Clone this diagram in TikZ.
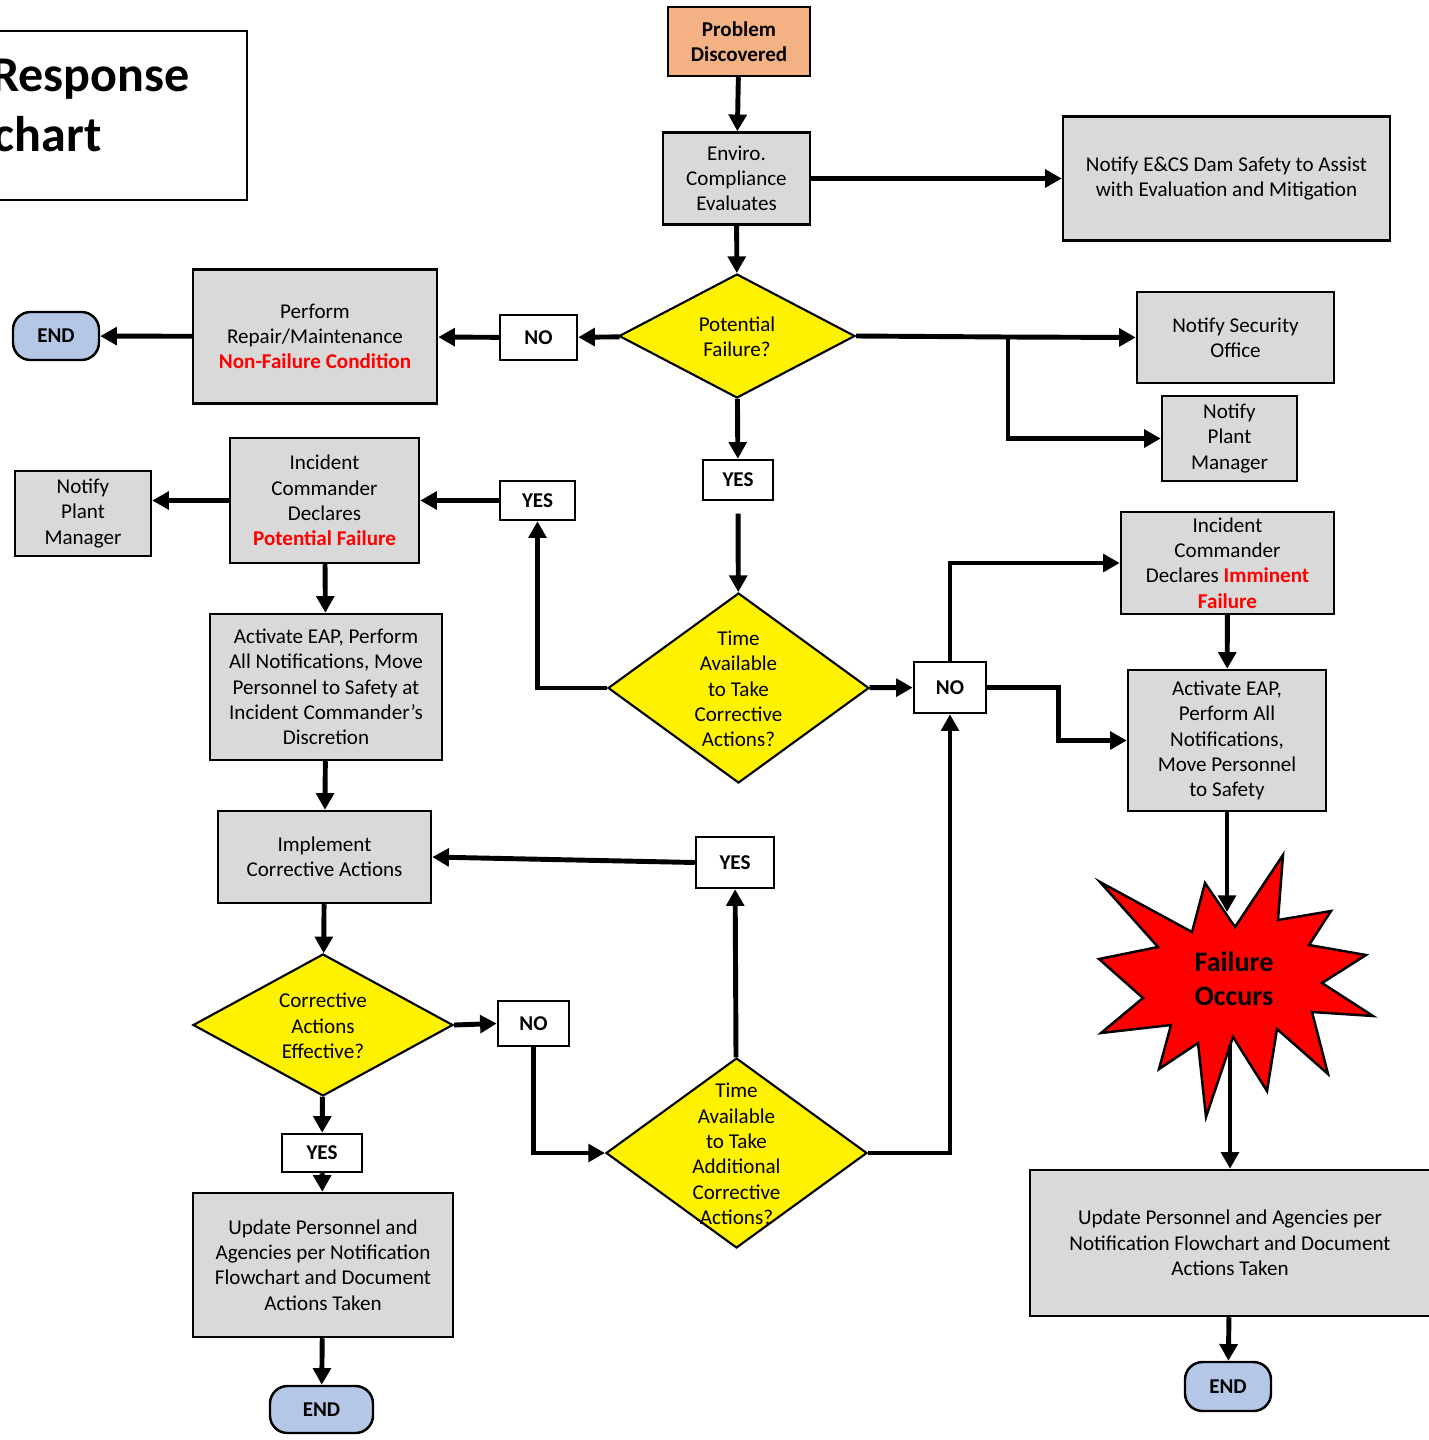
\documentclass[tikz,border=0pt]{standalone}
\usepackage{fontspec}
\setmainfont{Carlito}
\usetikzlibrary{shapes.geometric,arrows.meta}
\definecolor{boxgray}{HTML}{D9D9D9}
\definecolor{probfill}{HTML}{F4B183}
\definecolor{endfill}{HTML}{B4C7E7}
\definecolor{alertred}{HTML}{FF0000}
\newcommand{\redtxt}[1]{\textcolor{alertred}{\textbf{#1}}}

\begin{document}
\begin{tikzpicture}
    [x=0.02cm, y=-0.02cm,
     sz/.style 2 args={minimum width=#1*0.02cm, minimum height=#2*0.02cm},
     txt/.style={font=\fontsize{12}{14.4}\selectfont, align=center, inner sep=0pt},
     box/.style={txt, draw, line width=1.4pt, fill=boxgray},
     answer/.style={txt, draw, line width=1.4pt, fill=white, font=\fontsize{12}{14.4}\selectfont\bfseries},
     decision/.style={diamond, draw, line width=1.2pt, fill=yellow, inner sep=0pt},
     terminal/.style={txt, draw, line width=1.4pt, fill=endfill, rounded corners=0.35cm, font=\fontsize{12}{14.4}\selectfont\bfseries},
     title/.style={anchor=base east, inner sep=0pt, font=\fontsize{28.5}{34}\selectfont\bfseries},
     conn/.style={line width=2.8pt, -{Triangle[length=9.5pt,width=10pt]}}]
    \useasboundingbox (0,0) rectangle (1429,1440);

    % title
    \draw[line width=1.2pt] (-10,31) rectangle (247,200);
    \node[title] (ttl1) at (190,91) {Response};
    \node[title] (ttl2) at (102,151) {chart};

    % top column
    \node[box, sz={142}{69}, fill=probfill, font=\fontsize{12}{14.4}\selectfont\bfseries] (prob) at (739,41.5) {Problem\\Discovered};
    \node[box, sz={147}{92}] (env) at (736.5,178.5) {Enviro.\\Compliance\\Evaluates};
    \node[box, sz={327}{124}] (ecs) at (1226.5,178.5) {Notify E\&CS Dam Safety to Assist\\with Evaluation and Mitigation};
    \node[decision, sz={236}{124}] (pf) at (737,336) {};
    \node[txt] (pftxt) at (737,337) {Potential\\Failure?};
    \node[answer, sz={77}{45}] (nol) at (538.5,337.5) {NO};
    \node[box, sz={244}{134}] (rep) at (315,336.5) {Perform\\Repair/Maintenance\\\redtxt{Non-Failure Condition}};
    \node[terminal, sz={86}{48}] (endl) at (56,336) {END};
    \node[box, sz={197}{91}] (sec) at (1235.5,337.5) {Notify Security\\Office};
    \node[box, sz={135}{85}] (pmr) at (1229.5,438.5) {Notify\\Plant\\Manager};
    \node[answer, sz={70}{40}] (yest) at (738,480) {YES};
    \node[decision, sz={261}{190}] (ta) at (738.5,688) {};
    \node[txt] (tatxt) at (738.5,689) {Time\\Available\\to Take\\Corrective\\Actions?};

    % potential failure side
    \node[answer, sz={75}{39}] (yesl) at (537.5,500.5) {YES};
    \node[box, sz={189}{125}] (icp) at (324.5,500.5) {Incident\\Commander\\Declares\\\redtxt{Potential Failure}};
    \node[box, sz={136}{85}] (pml) at (83,513.5) {Notify\\Plant\\Manager};
    \node[box, sz={232}{146}] (eapl) at (326,687) {Activate EAP, Perform\\All Notifications, Move\\Personnel to Safety at\\Incident Commander's\\Discretion};
    \node[box, sz={213}{92}] (impl) at (324.5,857) {Implement\\Corrective Actions};
    \node[answer, sz={78}{51}] (yesm) at (735,862.5) {YES};
    \node[decision, sz={260}{142}] (cae) at (323,1025) {};
    \node[txt] (caetxt) at (323,1026) {Corrective\\Actions\\Effective?};
    \node[answer, sz={71}{45}] (nom) at (533.5,1023.5) {NO};
    \node[decision, sz={261}{190}] (atd) at (736.5,1153) {};
    \node[txt] (atdtxt) at (736.5,1154) {Time\\Available\\to Take\\Additional\\Corrective\\Actions?};
    \node[answer, sz={80}{38}] (yesb) at (322,1153) {YES};
    \node[box, sz={260}{144}] (updl) at (323,1265) {Update Personnel and\\Agencies per Notification\\Flowchart and Document\\Actions Taken};
    \node[terminal, sz={103}{47}] (endb) at (321.5,1409.5) {END};

    % imminent failure side
    \node[answer, sz={72}{51}] (nor) at (950,687.5) {NO};
    \node[box, sz={213}{102}] (ici) at (1227.5,563) {Incident\\Commander\\Declares \redtxt{Imminent}\\\redtxt{Failure}};
    \node[box, sz={198}{141}] (eapr) at (1227,740.5) {Activate EAP,\\Perform All\\Notifications,\\Move Personnel\\to Safety};
    \draw[fill=red, line width=1.4pt] (1100,882) -- (1192,932) -- (1205,883) -- (1235,927)
      -- (1283,855) -- (1278,920) -- (1331,911) -- (1309,945) -- (1366,955) -- (1322,983)
      -- (1373,1016) -- (1312,1012) -- (1328,1074) -- (1277,1029) -- (1267,1091) -- (1233,1037)
      -- (1206,1117) -- (1198,1043) -- (1159,1069) -- (1171,1025) -- (1101,1033) -- (1143,998)
      -- (1099,959) -- (1158,947) -- cycle;
    \node[font=\fontsize{16}{19.5}\selectfont\bfseries, align=center] (fail) at (1234,979) {Failure\\Occurs};
    \coordinate (failtop) at (1227,912);
    \coordinate (failbot) at (1230,1045);
    \node[box, sz={400}{146}] (updr) at (1230,1243) {Update Personnel and Agencies per\\Notification Flowchart and Document\\Actions Taken};
    \node[terminal, sz={86}{49}] (endr) at (1228,1386.5) {END};

    % connectors
    \draw[conn] (prob) -- (env);
    \draw[conn] (env) -- (ecs);
    \draw[conn] (env) -- (pf);
    \draw[conn] (pf) -- (nol);
    \draw[conn] (nol) -- (rep);
    \draw[conn] (rep) -- (endl);
    \coordinate (split) at (1008,337);
    \draw[line width=2.8pt] (pf.east) -- (split);
    \draw[conn] (split) -- (sec.west);
    \draw[conn] (split) |- (pmr.west);
    \draw[conn] (pf) -- (yest);
    \draw[conn, shorten <=7pt] (yest) -- (ta);
    \draw[conn] (ta.west) -| (yesl.south);
    \draw[conn] (yesl) -- (icp);
    \draw[conn] (icp.west) -- (icp.west -| pml.east);
    \draw[conn] (icp) -- (eapl);
    \draw[conn] (eapl) -- (impl);
    \draw[conn] (yesm.west) -- (impl.east);
    \draw[conn] (impl) -- (cae);
    \draw[conn] (cae.east) -- (nom.west);
    \draw[conn] (nom.south) |- (atd.west);
    \draw[conn] (atd) -- (yesm);
    \draw[conn] (cae) -- (yesb);
    \draw[conn] (yesb) -- (updl);
    \draw[conn] (updl) -- (endb);
    \draw[conn] (ta) -- (nor);
    \draw[conn] (atd.east) -| (nor.south);
    \draw[conn] (nor.north) |- (ici.west);
    \draw[conn] (nor.east) -- ++(71,0) |- (eapr.west);
    \draw[conn] (ici) -- (eapr);
    \draw[conn] (eapr.south) -- (failtop);
    \draw[conn] (failbot) -- (updr.north);
    \draw[conn] (updr) -- (endr);
  \end{tikzpicture}
\end{document}
